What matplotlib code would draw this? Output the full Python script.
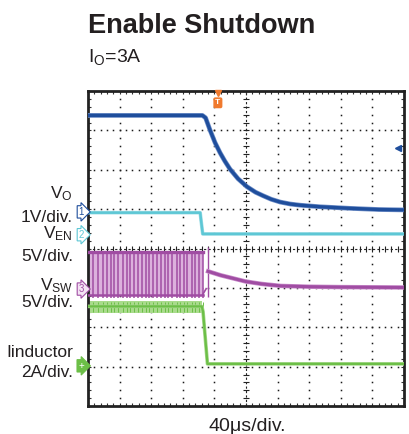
import numpy as np
import matplotlib.pyplot as plt

plt.rcParams['font.family'] = ['Liberation Sans', 'DejaVu Sans']
plt.rcParams['mathtext.fontset'] = 'custom'
plt.rcParams['mathtext.rm'] = 'Liberation Sans'
plt.rcParams['mathtext.it'] = 'Liberation Sans'

# Scope traces, in divisions (x: 0..10, y: -4..4)
vo_t = [0.0, 3.62, 3.72, 3.86, 4.02, 4.18, 4.33, 4.49, 4.75, 5.03, 5.30, 5.54, 5.80, 6.08, 6.40, 6.71, 7.34, 8.29, 9.20, 10.0]
vo_v = [3.38, 3.38, 3.32, 3.01, 2.69, 2.43, 2.22, 2.02, 1.77, 1.57, 1.43, 1.34, 1.25, 1.18, 1.13, 1.10, 1.06, 1.02, 0.99, 0.98]

ven_t = [0.0, 3.55, 3.58, 3.63, 10.0]
ven_v = [0.91, 0.91, 0.70, 0.37, 0.37]

# switching edges of VSW (div)
sw_edges = [0.17, 0.33, 0.46, 0.59, 0.72, 0.83, 0.96, 1.10, 1.22, 1.33, 1.46, 1.59, 1.70, 1.82,
            1.93, 2.07, 2.19, 2.31, 2.44, 2.54, 2.67, 2.81, 2.91, 3.04, 3.14, 3.28, 3.39, 3.51, 3.63]
sw_top = -0.10
sw_bot = -1.17
sw_spike_t = 3.79
sw_tail_t = [3.80, 4.20, 4.60, 5.00, 5.50, 6.10, 7.00, 8.00, 10.0]
sw_tail_v = [-0.58, -0.68, -0.76, -0.84, -0.90, -0.95, -0.97, -0.98, -0.99]

il_t = [0.0, 3.60, 3.64, 3.78, 10.0]
il_v = [-1.47, -1.47, -1.60, -2.93, -2.93]
il_hi = -1.33
il_lo = -1.63

c_vo = '#1f4e9c'
c_ven = '#5ec7d5'
c_sw = '#a04da3'
c_sw_lt = '#dcb0dd'
c_il = '#6cbf47'
c_il_lt = '#a9db8c'
c_trig = '#f07a2e'

fig = plt.figure(figsize=(4.09, 4.34), dpi=100)
ax = fig.add_axes([88/409, 28/434, 316/409, 315/434])
ax.set_xlim(0, 10)
ax.set_ylim(-4, 4)

# graticule
minor_x = np.arange(0, 10.001, 0.2)
minor_y = np.arange(-4, 4.001, 0.2)
for gx in range(1, 10):
    if gx != 5:
        ax.plot(np.full_like(minor_y, gx), minor_y, ls='none', marker='s', ms=1.1, mew=0, color='#1a1a1a', zorder=1)
for gy in range(-3, 4):
    if gy != 0:
        ax.plot(minor_x, np.full_like(minor_x, gy), ls='none', marker='s', ms=1.1, mew=0, color='#1a1a1a', zorder=1)
ax.axvline(5, color='#222222', lw=0.8, ls=(0, (2, 2)), zorder=1)
ax.axhline(0, color='#222222', lw=0.8, ls=(0, (2, 2)), zorder=1)
ax.plot(np.full_like(minor_y, 5), minor_y, ls='none', marker='_', ms=4, mew=0.8, color='#222222', zorder=1)
ax.plot(minor_x, np.zeros_like(minor_x), ls='none', marker='|', ms=4, mew=0.8, color='#222222', zorder=1)

ax.set_xticks(range(0, 11))
ax.set_yticks(range(-4, 5))
ax.set_xticks(minor_x, minor=True)
ax.set_yticks(minor_y, minor=True)
ax.tick_params(which='both', direction='in', length=2.5, width=0.8, color='#333333',
               top=True, right=True, labelbottom=False, labelleft=False)
for sp in ax.spines.values():
    sp.set_linewidth(2.0)
    sp.set_color('#222222')

# VO
ax.plot(vo_t, vo_v, color='#6f8fc8', lw=3.4, solid_capstyle='butt', zorder=3)
ax.plot(vo_t, vo_v, color=c_vo, lw=2.4, solid_capstyle='butt', zorder=3)

# VEN
ax.plot(ven_t, ven_v, color='#a6e0e8', lw=2.6, zorder=3)
ax.plot(ven_t, ven_v, color=c_ven, lw=1.8, zorder=3)

# VSW switching
ax.fill_between([0.0, sw_edges[-1]], sw_bot, sw_top, color=c_sw_lt, lw=0, zorder=2)
ax.vlines(sw_edges, sw_bot - 0.08, sw_top, color=c_sw, lw=1.1, zorder=3)
ax.plot([0.0, sw_edges[-1]], [sw_top, sw_top], color=c_sw, lw=2.4, zorder=3)
ax.plot([0.0, sw_edges[-1]], [sw_bot, sw_bot], color=c_sw, lw=1.8, zorder=3)
ax.vlines([sw_spike_t], sw_bot - 0.05, sw_top + 0.15, color=c_sw, lw=1.0, zorder=3)
ax.plot([sw_edges[-1], sw_spike_t - 0.05], [sw_bot, sw_bot + 0.15], color=c_sw, lw=1.2, zorder=3)
ax.plot(sw_tail_t, sw_tail_v, color='#c98ecb', lw=3.2, zorder=3)
ax.plot(sw_tail_t, sw_tail_v, color=c_sw, lw=2.2, zorder=3)

# inductor current
ax.fill_between([0.0, il_t[1]], il_lo, il_hi, color=c_il_lt, lw=0, zorder=2)
ax.vlines(sw_edges, il_lo + 0.03, il_hi - 0.03, color=c_il, lw=0.7, zorder=3)
ax.plot(il_t, il_v, color='#a7d88c', lw=2.6, zorder=3)
ax.plot(il_t, il_v, color=c_il, lw=1.6, zorder=3)

# trigger marker
ax.plot([4.11], [3.95], marker='v', ms=4, color=c_trig, clip_on=False, zorder=5)
ax.text(4.11, 3.70, 'T', color='white', fontsize=6, fontweight='bold', ha='center', va='center', zorder=5,
        bbox=dict(boxstyle='round,pad=0.15', fc=c_trig, ec=c_trig))
# trigger level marker
ax.plot([9.82], [2.55], marker='<', ms=5, color=c_vo, zorder=5)

# channel ground markers
ch_marks = [('1', 0.93, c_vo, 'white', c_vo), ('2', 0.35, c_ven, 'white', c_ven),
            ('3', -1.03, c_sw, '#f3e3f3', c_sw), ('+', -2.98, c_il, c_il, 'white')]
for lab, yv, ec, fc, tc in ch_marks:
    ax.text(-0.22, yv, lab, color=tc, fontsize=7, ha='center', va='center', clip_on=False, zorder=6,
            bbox=dict(boxstyle='rarrow,pad=0.12', fc=fc, ec=ec, lw=0.8))

# titles and labels
fig.text(88/409, 1 - 33/434, 'Enable Shutdown', fontsize=19.5, fontweight='bold', color='#231f20', va='baseline')
fig.text(88/409, 1 - 62/434, r'I$_\mathrm{O}$=3A', fontsize=14, color='#231f20', va='baseline')
fig.text(247/409, 1 - 431/434, '40\u03bcs/div.', fontsize=14, color='#231f20', ha='center', va='baseline')

left_labels = [(r'V$_\mathrm{O}$', 198), ('1V/div.', 222), (r'V$_\mathrm{EN}$', 238), ('5V/div.', 261),
               (r'V$_\mathrm{SW}$', 290), ('5V/div.', 307), ('Iinductor', 357), ('2A/div.', 377)]
for txt, base in left_labels:
    fig.text(73/409, 1 - base/434, txt, fontsize=12.5, color='#231f20', ha='right', va='baseline')

fig.savefig('out.png', dpi=100)
